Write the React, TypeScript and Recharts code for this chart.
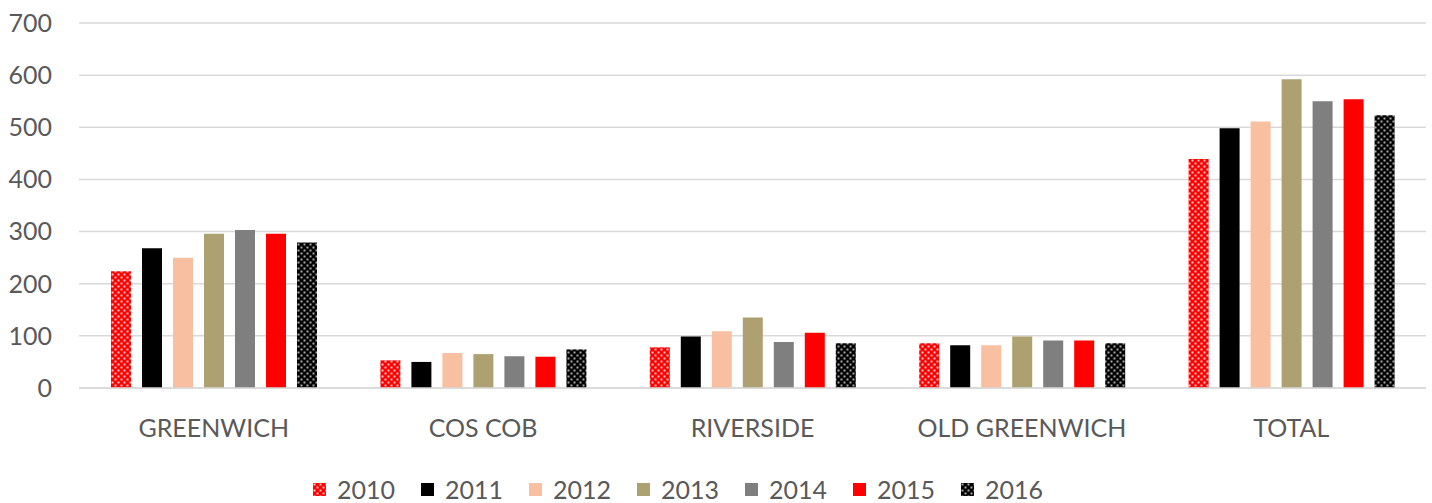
import React from 'react';
import { BarChart, Bar, XAxis, YAxis, CartesianGrid } from 'recharts';

const areas = ['GREENWICH', 'COS COB', 'RIVERSIDE', 'OLD GREENWICH', 'TOTAL'];
const years = ['2010', '2011', '2012', '2013', '2014', '2015', '2016'];

const y2010 = [224, 53, 78, 86, 439];
const y2011 = [268, 50, 99, 82, 498];
const y2012 = [250, 67, 109, 82, 511];
const y2013 = [296, 65, 135, 99, 592];
const y2014 = [303, 61, 88, 91, 550];
const y2015 = [296, 60, 106, 91, 554];
const y2016 = [279, 74, 86, 86, 523];

const yTicks = [0, 100, 200, 300, 400, 500, 600, 700];

const series = [y2010, y2011, y2012, y2013, y2014, y2015, y2016];
const data = areas.map((name, i) => {
  const row: Record<string, any> = { name };
  years.forEach((y, j) => { row[y] = series[j][i]; });
  return row;
});

const FILLS: Record<string, string> = {
  '2010': 'url(#dotsRed)',
  '2011': '#000000',
  '2012': '#F8BFA0',
  '2013': '#ADA171',
  '2014': '#7F7F7F',
  '2015': '#FF0000',
  '2016': 'url(#dotsBlack)',
};

const TEXT = '#595959';
const FONT = 'Lato, "Open Sans", sans-serif';

function Patterns({ prefix = '' }: { prefix?: string }) {
  return (
    <defs>
      <pattern id={`${prefix}dotsRed`} width="6" height="6" patternUnits="userSpaceOnUse">
        <rect width="6" height="6" fill="#FF0000" />
        <rect x="0.5" y="0.5" width="2" height="2" fill="#FFC4C4" />
        <rect x="3.5" y="3.5" width="2" height="2" fill="#FFC4C4" />
      </pattern>
      <pattern id={`${prefix}dotsBlack`} width="6" height="6" patternUnits="userSpaceOnUse">
        <rect width="6" height="6" fill="#000000" />
        <rect x="0.5" y="0.5" width="2" height="2" fill="#A8A8A8" />
        <rect x="3.5" y="3.5" width="2" height="2" fill="#A8A8A8" />
      </pattern>
    </defs>
  );
}

// legend drawn outside the chart so it doesn't eat plot height
function LegendRow() {
  return (
    <div style={{ position: 'absolute', left: 313, top: 474, display: 'flex', alignItems: 'center', fontFamily: FONT, fontSize: 25, color: TEXT }}>
      {years.map((y, i) => (
        <div key={y} style={{ display: 'flex', alignItems: 'center', marginRight: i < years.length - 1 ? 26 : 0 }}>
          <svg width={13} height={13} style={{ marginRight: 11 }}>
            <Patterns prefix="lg" />
            <rect width={13} height={13} fill={FILLS[y].replace('url(#', 'url(#lg')} />
          </svg>
          <span>{y}</span>
        </div>
      ))}
    </div>
  );
}

export default function App() {
  return (
    <div style={{ position: 'absolute', left: 0, top: 0, width: 1432, height: 503, background: '#fff', overflow: 'hidden' }}>
      <BarChart
        width={1432}
        height={503}
        data={data}
        margin={{ top: 23, right: 6, bottom: 85, left: 0 }}
        barSize={20}
        barGap={11}
      >
        <Patterns />
        <CartesianGrid vertical={false} stroke="#D9D9D9" strokeWidth={1.5} />
        <XAxis
          dataKey="name"
          height={30}
          axisLine={{ stroke: '#D9D9D9', strokeWidth: 1.5 }}
          tickLine={false}
          tickSize={0}
          tickMargin={31}
          tick={{ fontSize: 25, fill: TEXT, fontFamily: FONT }}
          interval={0}
        />
        <YAxis
          width={79}
          domain={[0, 700]}
          ticks={yTicks}
          axisLine={false}
          tickLine={false}
          tickSize={0}
          tickMargin={27}
          tick={{ fontSize: 25, fill: TEXT, fontFamily: FONT }}
        />
        {years.map((y) => (
          <Bar key={y} dataKey={y} fill={FILLS[y]} isAnimationActive={false} />
        ))}
      </BarChart>
      <LegendRow />
    </div>
  );
}
